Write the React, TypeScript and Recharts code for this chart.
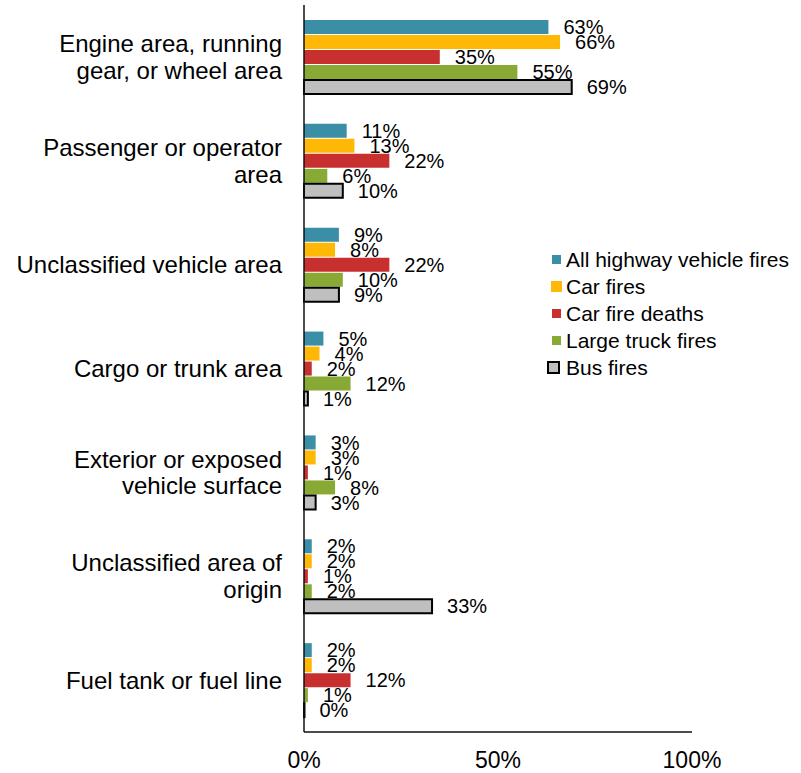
import React from "react";
import { BarChart, Bar, XAxis, YAxis, LabelList, Legend } from "recharts";

const categories = [
  "Engine area, running\ngear, or wheel area",
  "Passenger or operator\narea",
  "Unclassified vehicle area",
  "Cargo or trunk area",
  "Exterior or exposed\nvehicle surface",
  "Unclassified area of\norigin",
  "Fuel tank or fuel line",
];
const allHighway = [63, 11, 9, 5, 3, 2, 2];
const carFires = [66, 13, 8, 4, 3, 2, 2];
const carDeaths = [35, 22, 22, 2, 1, 1, 12];
const truckFires = [55, 6, 10, 12, 8, 2, 1];
const busFires = [69, 10, 9, 1, 3, 33, 0];
const xTicks = [0, 50, 100];

const seriesNames = [
  "All highway vehicle fires",
  "Car fires",
  "Car fire deaths",
  "Large truck fires",
  "Bus fires",
];
const seriesKeys = ["a", "b", "c", "d", "e"];
const seriesColors = ["#3A8FA6", "#FFB806", "#C8302F", "#88AA35", "#BFBFBF"];

const data = categories.map((name, i) => ({
  name,
  a: allHighway[i],
  b: carFires[i],
  c: carDeaths[i],
  d: truckFires[i],
  e: busFires[i],
}));

const FONT = "'Liberation Sans', Arial, Helvetica, sans-serif";

const YTick = (props: any) => {
  const { x, y, payload } = props;
  const lines = String(payload.value).split("\n");
  const lh = 26.5;
  const start = -((lines.length - 1) * lh) / 2;
  return (
    <text x={x - 22} y={y} textAnchor="end" fontSize={24} fill="#000" fontFamily={FONT}>
      {lines.map((l, i) => (
        <tspan key={i} x={x - 22} y={y + start + i * lh + 8.5}>
          {l}
        </tspan>
      ))}
    </text>
  );
};

const XTick = (props: any) => {
  const { x, y, payload } = props;
  return (
    <text x={x} y={y + 36} textAnchor="middle" fontSize={23} fill="#000" fontFamily={FONT}>
      {`${payload.value}%`}
    </text>
  );
};

const LegendContent = () => (
  <div style={{ fontFamily: FONT, fontSize: 21, color: "#000" }}>
    {seriesNames.map((n, i) => {
      const isBus = i === 4;
      const big = i === 1;
      const s = isBus ? 13 : big ? 11 : 9;
      return (
        <div key={n} style={{ display: "flex", alignItems: "center", height: 27, whiteSpace: "nowrap" }}>
          <div style={{ width: 18, display: "flex", justifyContent: isBus ? "flex-start" : "center" }}>
            <svg width={s} height={s} style={{ display: "block" }}>
              <rect
                x={isBus ? 1 : 0}
                y={isBus ? 1 : 0}
                width={isBus ? s - 2 : s}
                height={isBus ? s - 2 : s}
                fill={seriesColors[i]}
                stroke={isBus ? "#000" : "none"}
                strokeWidth={isBus ? 2 : 0}
              />
            </svg>
          </div>
          <span style={{ marginLeft: 1 }}>{n}</span>
        </div>
      );
    })}
  </div>
);

export default function App() {
  return (
    <div style={{ position: "absolute", left: 0, top: 0, width: 801, height: 773, background: "#fff" }}>
      <BarChart
        width={801}
        height={773}
        data={data}
        layout="vertical"
        margin={{ top: 5, right: 109, bottom: 0, left: 0 }}
        barSize={14}
        barGap={1}
      >
        <XAxis
          type="number"
          domain={[0, 100]}
          ticks={xTicks}
          tick={<XTick />}
          tickLine={false}
          tickSize={0}
          tickMargin={0}
          height={41}
          axisLine={{ stroke: "#111", strokeWidth: 1.5 }}
          interval={0}
        />
        <YAxis
          type="category"
          dataKey="name"
          width={304}
          tick={<YTick />}
          tickLine={false}
          tickSize={0}
          tickMargin={0}
          axisLine={{ stroke: "#111", strokeWidth: 1.5 }}
          interval={0}
        />
        <Legend
          layout="vertical"
          align="center"
          verticalAlign="middle"
          content={<LegendContent />}
          wrapperStyle={{ position: "absolute", left: 547, top: 246, width: 254 }}
        />
        {seriesKeys.map((k, i) => (
          <Bar
            key={k}
            dataKey={k}
            name={seriesNames[i]}
            fill={seriesColors[i]}
            stroke={i === 4 ? "#000" : "none"}
            strokeWidth={i === 4 ? 2 : 0}
            minPointSize={i === 4 ? 0.5 : 0}
            isAnimationActive={false}
          >
            <LabelList
              dataKey={k}
              position="right"
              offset={15}
              formatter={(v: any) => `${v}%`}
              style={{ fontSize: 20, fill: "#000", fontFamily: FONT }}
            />
          </Bar>
        ))}
      </BarChart>
    </div>
  );
}
